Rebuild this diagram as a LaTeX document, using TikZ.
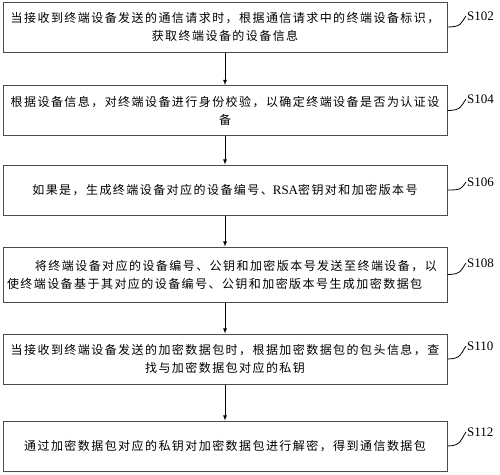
\documentclass[tikz,border=0pt]{standalone}
\usepackage{fontspec}
\setmainfont{Liberation Serif}
\newfontfamily\cjk[LetterSpace=12]{Noto Sans CJK SC}
\newcommand{\flowbox}[4][]{\node[box,#1] (#2) at (225,#3) {#4};}
\newcommand{\steplabel}[3]{\node[lbl] (#1) at (466,#2) {#3};}
\newcommand{\leader}[2]{\draw[line width=0.8pt] (#1.east) .. controls +(14,0) and +(-5,7) .. (#2.west);}
\newcommand{\flow}[2]{\draw[line width=0.8pt,->,>=latex] (#1) -- (#2);}

\begin{document}
\begin{tikzpicture}[x=1pt,y=-1pt,
    box/.style={draw=black!70,line width=1pt,text width=436pt,inner sep=4pt,minimum height=50pt,align=center,font=\cjk\fontsize{12}{18}\selectfont},
    lbl/.style={anchor=west,inner sep=1pt,font=\fontsize{13}{13}\selectfont}]
    \useasboundingbox (0,0) rectangle (500,474);
    \flowbox{b1}{27}{当接收到终端设备发送的通信请求时，根据通信请求中的终端设备标识，\\获取终端设备的设备信息}
    \flowbox{b2}{110.5}{根据设备信息，对终端设备进行身份校验，以确定终端设备是否为认证设\\备}
    \flowbox{b3}{190}{如果是，生成终端设备对应的设备编号、{\rmfamily\fontsize{13}{18}\selectfont RSA}密钥对和加密版本号}
    \flowbox[align=left,minimum height=55pt]{b4}{274.5}{\hspace*{28pt}将终端设备对应的设备编号、公钥和加密版本号发送至终端设备，以\\使终端设备基于其对应的设备编号、公钥和加密版本号生成加密数据包}
    \flowbox{b5}{359}{当接收到终端设备发送的加密数据包时，根据加密数据包的包头信息，查\\找与加密数据包对应的私钥}
    \flowbox{b6}{446}{通过加密数据包对应的私钥对加密数据包进行解密，得到通信数据包}
    \flow{b1}{b2}\flow{b2}{b3}\flow{b3}{b4}
    \flow{b4}{b5}\flow{b5}{b6}
    \steplabel{s102}{16}{S102}   \steplabel{s104}{99}{S104}
    \steplabel{s106}{182}{S106}  \steplabel{s108}{263}{S108}
    \steplabel{s110}{346}{S110}  \steplabel{s112}{432}{S112}
    \leader{b1}{s102}\leader{b2}{s104}\leader{b3}{s106}
    \leader{b4}{s108}\leader{b5}{s110}\leader{b6}{s112}
\end{tikzpicture}
\end{document}
